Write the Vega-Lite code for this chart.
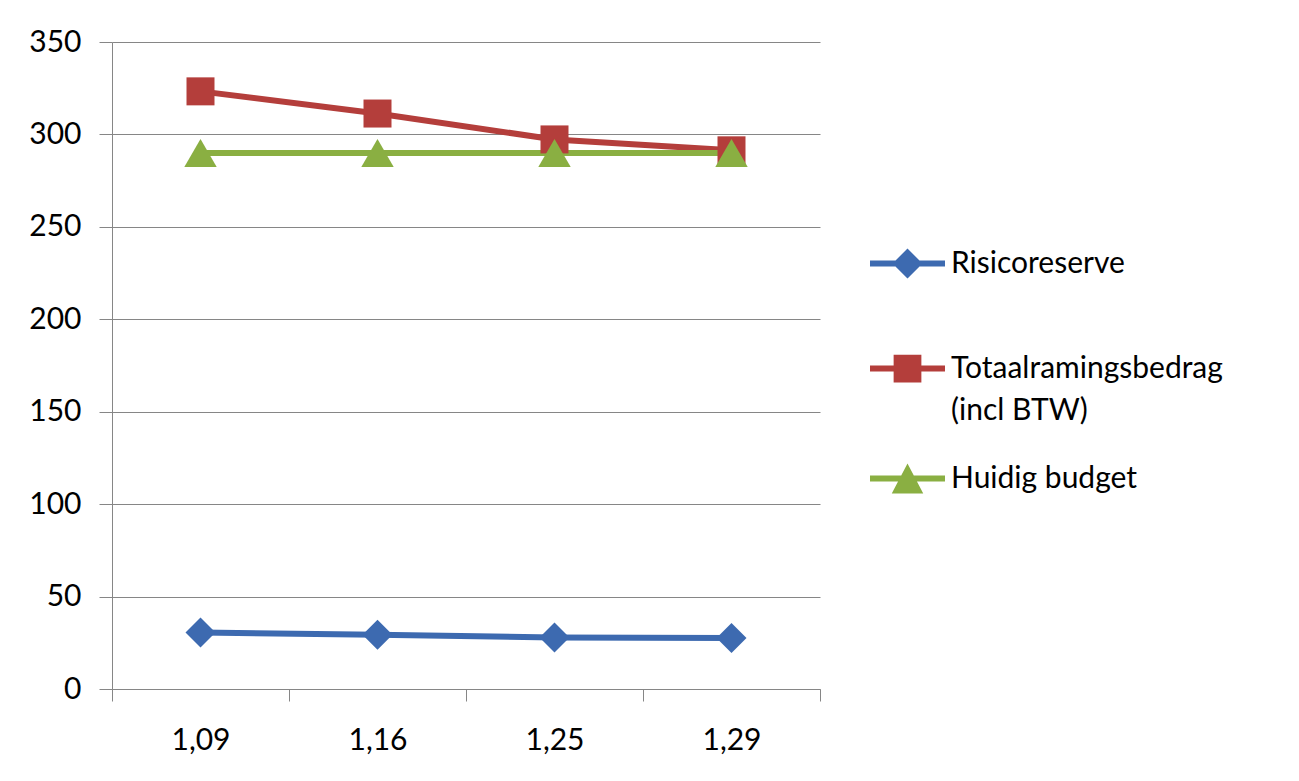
{
  "$schema": "https://vega.github.io/schema/vega-lite/v6.json",
  "width": 708,
  "height": 647,
  "autosize": {"type": "none"},
  "padding": {"left": 112, "top": 42, "right": 479, "bottom": 92},
  "background": "white",
  "config": {"view": {"stroke": null}, "font": "Lato"},
  "data": {
    "values": [
      {"x": "1,09", "series": "Risicoreserve", "value": 30.5},
      {"x": "1,16", "series": "Risicoreserve", "value": 29.4},
      {"x": "1,25", "series": "Risicoreserve", "value": 27.8},
      {"x": "1,29", "series": "Risicoreserve", "value": 27.6},
      {"x": "1,09", "series": "Totaalramingsbedrag (incl BTW)", "value": 323.3},
      {"x": "1,16", "series": "Totaalramingsbedrag (incl BTW)", "value": 311.3},
      {"x": "1,25", "series": "Totaalramingsbedrag (incl BTW)", "value": 297.3},
      {"x": "1,29", "series": "Totaalramingsbedrag (incl BTW)", "value": 291.4},
      {"x": "1,09", "series": "Huidig budget", "value": 290},
      {"x": "1,16", "series": "Huidig budget", "value": 290},
      {"x": "1,25", "series": "Huidig budget", "value": 290},
      {"x": "1,29", "series": "Huidig budget", "value": 290}
    ]
  },
  "encoding": {
    "x": {
      "field": "x",
      "type": "ordinal",
      "sort": ["1,09", "1,16", "1,25", "1,29"],
      "scale": {"type": "band", "paddingInner": 0, "paddingOuter": 0},
      "axis": {
        "title": null,
        "labelAngle": 0,
        "tickBand": "extent",
        "grid": false,
        "domainColor": "#868686",
        "domainWidth": 1,
        "tickColor": "#868686",
        "tickSize": 12,
        "labelFont": "Lato",
        "labelFontSize": 30,
        "labelColor": "#000000",
        "labelPadding": 24
      }
    },
    "y": {
      "field": "value",
      "type": "quantitative",
      "scale": {"domain": [0, 350], "nice": false},
      "axis": {
        "title": null,
        "values": [0, 50, 100, 150, 200, 250, 300, 350],
        "grid": true,
        "gridColor": "#868686",
        "gridWidth": 1,
        "domainColor": "#868686",
        "domainWidth": 1,
        "tickColor": "#868686",
        "tickSize": 13,
        "labelFont": "Lato",
        "labelFontSize": 30,
        "labelColor": "#000000",
        "labelPadding": 18
      }
    },
    "color": {
      "field": "series",
      "type": "nominal",
      "scale": {
        "domain": ["Risicoreserve", "Totaalramingsbedrag (incl BTW)", "Huidig budget"],
        "range": ["#3D6AB0", "#B43E3B", "#8AAF42"]
      },
      "legend": {
        "title": null,
        "orient": "none",
        "legendX": 758,
        "legendY": 184,
        "direction": "vertical",
        "symbolSize": 5625,
        "labelFont": "Lato",
        "labelFontSize": 30,
        "labelColor": "#000000",
        "labelLimit": 0,
        "labelOffset": 6,
        "rowPadding": 15,
        "labelExpr": "datum.label == 'Totaalramingsbedrag (incl BTW)' ? ['Totaalramingsbedrag', '(incl BTW)'] : datum.label",
        "encode": {
          "labels": {"update": {"lineHeight": {"value": 42}}},
          "symbols": {
            "update": {
              "shape": {"signal": "datum.value == 'Risicoreserve' ? 'M-1,-0.08H1V0.08H-1Z M0,-0.4L0.4,0L0,0.4L-0.4,0Z' : datum.value == 'Huidig budget' ? 'M-1,-0.08H1V0.08H-1Z M0,-0.4L0.42,0.4H-0.42Z' : 'M0,-1.97 M-1,-0.08H1V0.08H-1Z M-0.37,-0.37H0.37V0.37H-0.37Z'"},
              "fill": {"signal": "datum.value == 'Risicoreserve' ? '#3D6AB0' : datum.value == 'Huidig budget' ? '#8AAF42' : '#B43E3B'"},
              "stroke": {"value": "transparent"},
              "strokeWidth": {"value": 0},
              "opacity": {"value": 1},
              "size": {"value": 5625}
            }
          }
        }
      }
    }
  },
  "layer": [
    {"mark": {"type": "line", "strokeWidth": 6}},
    {
      "transform": [{"filter": {"field": "series", "equal": "Risicoreserve"}}],
      "mark": {"type": "point", "shape": "diamond", "filled": true, "opacity": 1, "size": 900}
    },
    {
      "transform": [{"filter": {"field": "series", "equal": "Totaalramingsbedrag (incl BTW)"}}],
      "mark": {"type": "point", "shape": "square", "filled": true, "opacity": 1, "size": 784}
    },
    {
      "transform": [{"filter": {"field": "series", "equal": "Huidig budget"}}],
      "mark": {"type": "point", "shape": "triangle-up", "filled": true, "opacity": 1, "size": 1050}
    }
  ]
}
